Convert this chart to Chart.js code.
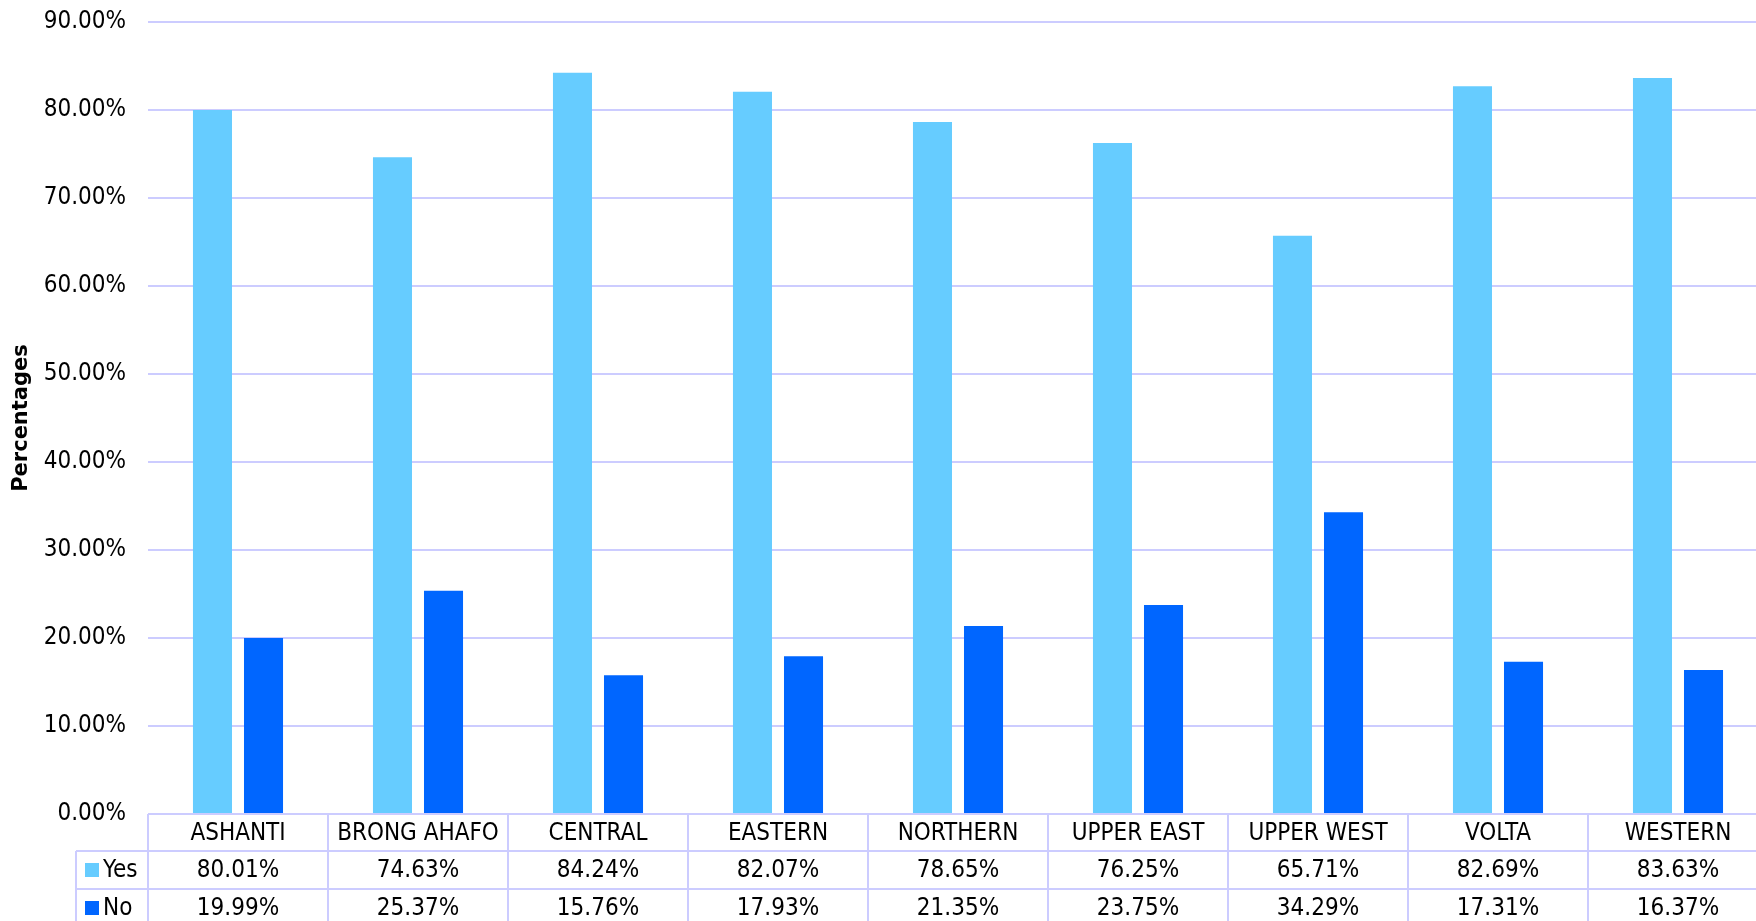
<!DOCTYPE html>
<html>
<head>
<meta charset="utf-8">
<script src="https://cdn.jsdelivr.net/npm/chart.js@4/dist/chart.umd.min.js"></script>
<style>
  body { margin: 0; background: #fff; overflow: hidden; }
  #wrap { width: 1770px; height: 921px; }
</style>
</head>
<body>
<div id="wrap"><canvas id="myChart"></canvas></div>
<script>
const regions = ["ASHANTI", "BRONG AHAFO", "CENTRAL", "EASTERN", "NORTHERN", "UPPER EAST", "UPPER WEST", "VOLTA", "WESTERN"];
const yesValues = [80.01, 74.63, 84.24, 82.07, 78.65, 76.25, 65.71, 82.69, 83.63];
const noValues = [19.99, 25.37, 15.76, 17.93, 21.35, 23.75, 34.29, 17.31, 16.37];
const yTicks = [0, 10, 20, 30, 40, 50, 60, 70, 80, 90];

const FONT = "'DejaVu Sans Condensed', 'DejaVu Sans', sans-serif";
const GRID = "#ccccff";

// draws the data table under the plot (category row + Yes/No rows)
const dataTable = {
  id: "dataTable",
  afterDraw(chart) {
    const { ctx, chartArea, scales: { x } } = chart;
    const top = chartArea.bottom;
    const rows = [top, top + 37, top + 75, top + 113];
    const colW = x.width / regions.length;
    const legLeft = 76;

    ctx.save();
    ctx.strokeStyle = GRID;
    ctx.lineWidth = 2;

    // horizontal lines
    ctx.beginPath();
    ctx.moveTo(chartArea.left, rows[0]);
    ctx.lineTo(chartArea.right, rows[0]);
    for (let r = 1; r < rows.length; r++) {
      ctx.moveTo(legLeft, rows[r]);
      ctx.lineTo(chartArea.right, rows[r]);
    }
    // vertical lines
    for (let i = 0; i <= regions.length; i++) {
      const px = chartArea.left + i * colW;
      ctx.moveTo(px, rows[0]);
      ctx.lineTo(px, rows[3]);
    }
    ctx.moveTo(legLeft, rows[1]);
    ctx.lineTo(legLeft, rows[3]);
    ctx.stroke();

    ctx.fillStyle = "#000";
    ctx.font = "24px " + FONT;
    ctx.textAlign = "center";
    ctx.textBaseline = "middle";
    regions.forEach((name, i) => {
      const cx = x.getPixelForValue(i);
      ctx.fillText(name, cx, (rows[0] + rows[1]) / 2 + 1);
      ctx.fillText(yesValues[i].toFixed(2) + "%", cx, (rows[1] + rows[2]) / 2 + 1);
      ctx.fillText(noValues[i].toFixed(2) + "%", cx, (rows[2] + rows[3]) / 2 + 1);
    });

    // legend cells
    const sets = chart.data.datasets;
    ctx.textAlign = "left";
    sets.forEach((ds, k) => {
      const cy = (rows[k + 1] + rows[k + 2]) / 2;
      ctx.fillStyle = ds.backgroundColor;
      ctx.fillRect(85, cy - 7, 14, 14);
      ctx.fillStyle = "#000";
      ctx.fillText(ds.label, 103, cy + 1);
    });
    ctx.restore();
  }
};

new Chart(document.getElementById("myChart"), {
  type: "bar",
  data: {
    labels: regions,
    datasets: [
      { label: "Yes", data: yesValues, backgroundColor: "#66ccff" },
      { label: "No", data: noValues, backgroundColor: "#0066ff" }
    ]
  },
  options: {
    responsive: true,
    maintainAspectRatio: false,
    animation: false,
    categoryPercentage: 0.567,
    barPercentage: 0.765,
    layout: { padding: { top: 22, bottom: 99, left: 0, right: 2 } },
    plugins: {
      legend: { display: false },
      tooltip: { enabled: false }
    },
    scales: {
      x: {
        ticks: { display: false },
        grid: { display: false },
        border: { display: false }
      },
      y: {
        min: 0,
        max: 90,
        afterBuildTicks: (s) => { s.ticks = yTicks.map(v => ({ value: v })); },
        afterFit: (s) => {
          s.width = 148;
          s.paddingTop = 0;
          s.paddingBottom = 0;
        },
        ticks: {
          padding: 22,
          color: "#000",
          font: { family: FONT, size: 24 },
          callback: (v) => v.toFixed(2) + "%"
        },
        grid: { color: GRID, lineWidth: 2, drawTicks: false },
        border: { display: false },
        title: {
          display: true,
          text: "Percentages",
          color: "#000",
          font: { family: "'DejaVu Sans', sans-serif", size: 21, weight: "bold" },
          padding: { top: 9, bottom: 0 }
        }
      }
    }
  },
  plugins: [dataTable]
});
</script>
</body>
</html>
